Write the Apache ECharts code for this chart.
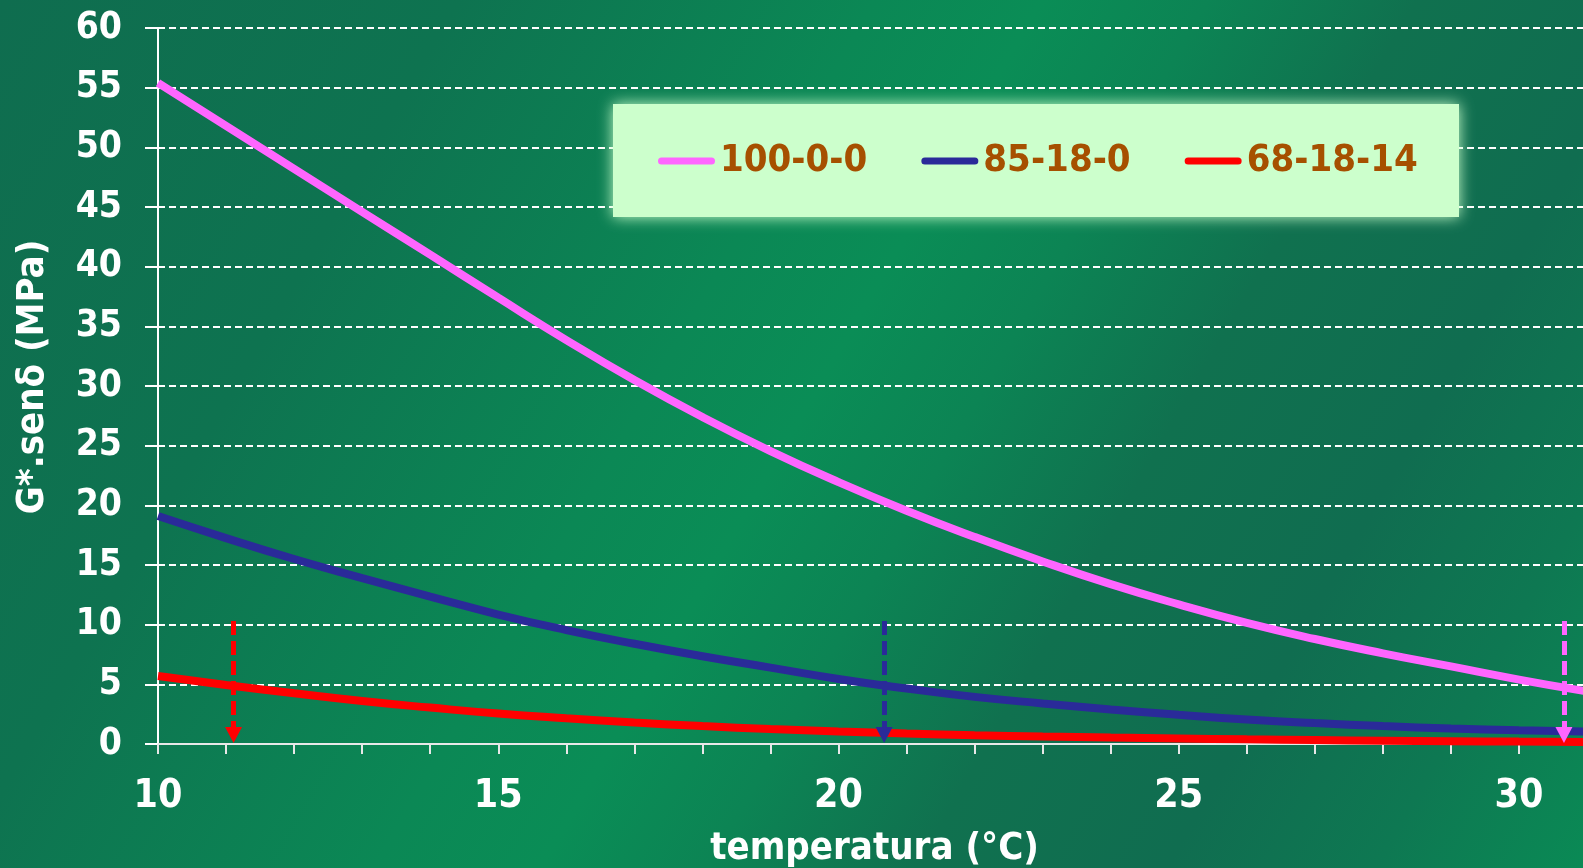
<!DOCTYPE html>
<html>
<head>
<meta charset="utf-8">
<script src="https://cdn.jsdelivr.net/npm/echarts@6/dist/echarts.min.js"></script>
<style>
html,body{margin:0;padding:0;width:1583px;height:868px;overflow:hidden;}
#c{width:1583px;height:868px;background:linear-gradient(120deg,#0f6d4f 0%,#0e7350 22%,#0b8855 42%,#0a8d56 50%,#0c8454 58%,#10714f 68%,#106d50 80%,#0e7852 90%,#0a8a55 100%);}
</style>
</head>
<body>
<div id="c"></div>
<script>
// ---- data ----
const temps = [10,11,12,13,14,15,16,17,18,19,20,21,22,23,24,25,26,27,28,29,30,31];
const s100_0_0 = [55.4,51.8,48.2,44.6,41.0,37.4,33.85,30.5,27.4,24.55,21.95,19.55,17.35,15.3,13.4,11.7,10.15,8.8,7.6,6.5,5.4,4.4];
const s85_18_0 = [19.1,17.25,15.5,13.9,12.35,10.85,9.55,8.4,7.35,6.4,5.45,4.65,3.95,3.4,2.9,2.45,2.05,1.75,1.5,1.3,1.15,1.05];
const s68_18_14 = [5.7,4.95,4.25,3.6,3.05,2.55,2.15,1.8,1.5,1.25,1.05,0.88,0.74,0.63,0.54,0.46,0.39,0.33,0.28,0.24,0.2,0.17];
const seriesNames = ['100-0-0','85-18-0','68-18-14'];
const seriesColors = ['#ff66ff','#2a2a99','#ff0000'];
const arrowX = [30.66, 20.67, 11.11];   // critical temperatures (per series)
const arrowTop = 10.3;
const arrowBottom = 0.75;
const xTitle = 'temperatura (°C)';
const yTitle = 'G*.senδ (MPa)';

const allValues = [s100_0_0, s85_18_0, s68_18_14];
const condensed = "'DejaVu Sans Condensed','DejaVu Sans',sans-serif";

const chart = echarts.init(document.getElementById('c'), null, {renderer:'canvas'});
const series = allValues.map((vals, i) => ({
  name: seriesNames[i],
  type: 'line',
  smooth: 0.5,
  symbol: 'none',
  color: seriesColors[i],
  lineStyle: {width: 8, color: seriesColors[i]},
  z: 3 + (2 - i),
  data: temps.map((t, k) => [t, vals[k]]),
  markLine: {
    silent: true,
    symbol: ['none', 'triangle'],
    symbolSize: [17, 16],
    label: {show: false},
    lineStyle: {type: [14, 6], width: 5, color: seriesColors[i]},
    data: [[{coord: [arrowX[i], arrowTop]}, {coord: [arrowX[i], arrowBottom]}]]
  }
}));

chart.setOption({
  animation: false,
  backgroundColor: 'transparent',
  grid: {left: 158, right: 0, top: 28, bottom: 124, containLabel: false, outerBoundsMode: 'none'},
  xAxis: {
    type: 'value', min: 10, max: 30.94, interval: 1,
    name: xTitle, nameLocation: 'middle', nameGap: 86,
    nameTextStyle: {color: '#ffffff', fontSize: 38, fontWeight: 'bold', fontFamily: condensed, padding: [0, 0, 0, 8]},
    axisLine: {show: true, onZero: false, lineStyle: {color: '#e8e8e8', width: 2}},
    axisTick: {show: true, length: 10, lineStyle: {color: '#e8e8e8', width: 2}},
    axisLabel: {
      color: '#ffffff', fontSize: 39, fontWeight: 'bold', fontFamily: condensed, margin: 33,
      showMaxLabel: false,
      formatter: v => (Number.isInteger(v) && v % 5 === 0 ? String(v) : '')
    },
    splitLine: {show: false}
  },
  yAxis: {
    type: 'value', min: 0, max: 60, interval: 5,
    axisLine: {show: true, lineStyle: {color: '#ffffff', width: 2}},
    axisTick: {show: true, length: 13, lineStyle: {color: '#ffffff', width: 2}},
    axisLabel: {color: '#ffffff', fontSize: 37, fontWeight: 'bold', fontFamily: condensed, margin: 36},
    splitLine: {show: true, lineStyle: {color: '#ffffff', width: 2, type: [7, 4]}}
  },
  legend: {
    left: 658, top: 142, padding: 0, itemGap: 54, z: 10,
    itemWidth: 57, itemHeight: 7,
    icon: 'path://M3.5,0H53.5A3.5,3.5,0,0,1,53.5,7H3.5A3.5,3.5,0,0,1,3.5,0Z',
    data: seriesNames,
    textStyle: {color: '#a65000', fontSize: 38, fontWeight: 'bold', fontFamily: condensed, lineHeight: 38}
  },
  graphic: [
    {type: 'rect', z: 8, silent: true,
     shape: {x: 613, y: 104, width: 846, height: 113},
     style: {fill: '#ccffcc', shadowBlur: 14, shadowColor: '#ccffcc'}},
    {type: 'text', z: 10, silent: true, x: 33, y: 377, rotation: Math.PI / 2,
     style: {text: yTitle, fill: '#ffffff', font: "bold 38px 'DejaVu Sans Condensed','DejaVu Sans',sans-serif", align: 'center', verticalAlign: 'middle'}}
  ],
  series: series
});
</script>
</body>
</html>
